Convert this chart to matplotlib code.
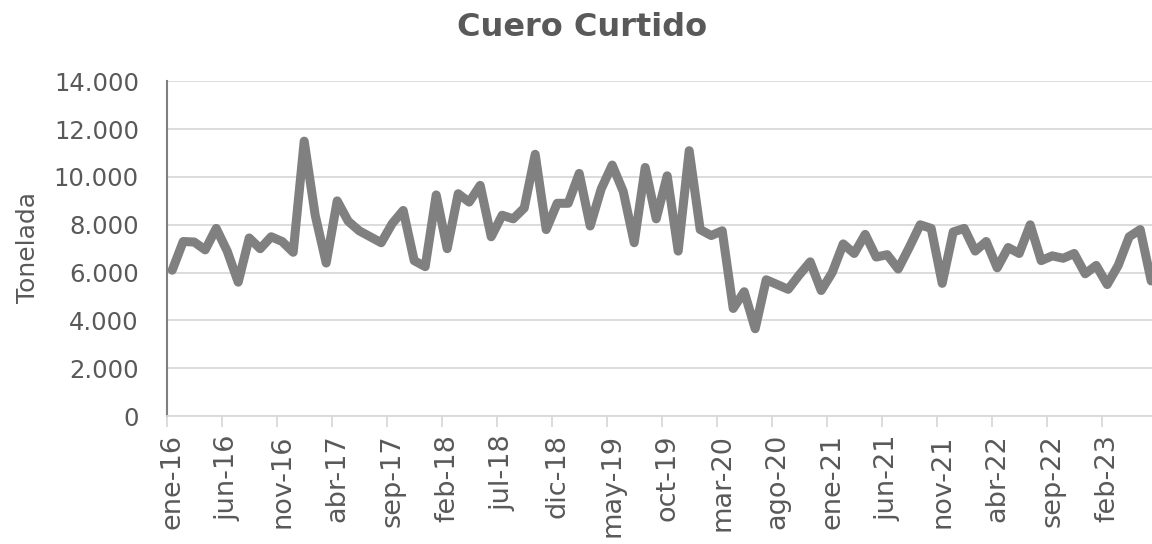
import matplotlib
matplotlib.use("Agg")
import matplotlib.pyplot as plt
from matplotlib.ticker import FuncFormatter, FixedLocator

# meses ene-16 .. jun-23
meses = ["ene", "feb", "mar", "abr", "may", "jun",
         "jul", "ago", "sep", "oct", "nov", "dic"]
etiquetas = [f"{meses[k % 12]}-{16 + k // 12}" for k in range(90)]

toneladas = [
    6100, 7300, 7280, 6950, 7850, 6900, 5600, 7450, 7000, 7500, 7300, 6850,
    11500, 8400, 6400, 9000, 8150, 7750, 7500, 7250, 8050, 8600, 6500, 6250,
    9250, 7000, 9300, 8950, 9650, 7500, 8400, 8250, 8700, 10950, 7800, 8900,
    8900, 10150, 7950, 9500, 10500, 9400, 7250, 10400, 8250, 10050, 6900, 11100,
    7800, 7550, 7750, 4500, 5200, 3650, 5700, 5500, 5300, 5900, 6450, 5250,
    6000, 7200, 6800, 7600, 6650, 6750, 6150, 7050, 8000, 7850, 5550, 7700,
    7850, 6900, 7300, 6200, 7050, 6800, 8000, 6500, 6700, 6600, 6800, 5950,
    6300, 5500, 6300, 7500, 7800, 5650,
]

gris_texto = "#595959"
gris_linea = "#808080"
gris_grid = "#d9d9d9"

fig = plt.figure(figsize=(11.52, 5.44), dpi=100)
ax = fig.add_axes([166.7 / 1152, 1 - 416 / 544, 990 / 1152, (416 - 81.4) / 544])

x = list(range(len(toneladas)))
ax.plot(x, toneladas, color=gris_linea, linewidth=6.5,
        solid_joinstyle="round", solid_capstyle="round", zorder=3)

ax.set_xlim(-0.5, len(toneladas) - 0.5)
ax.set_ylim(0, 14000)
ax.set_yticks(range(0, 14001, 2000))
ax.yaxis.set_major_formatter(FuncFormatter(lambda v, p: f"{int(v):,}".replace(",", ".")))
ax.grid(axis="y", color=gris_grid, linewidth=1.3, zorder=0)

pos = list(range(0, len(toneladas), 5))
ax.set_xticks(pos)
ax.set_xticklabels([etiquetas[k] for k in pos], rotation=90)
ax.xaxis.set_minor_locator(FixedLocator([k - 0.5 for k in pos]))
ax.tick_params(axis="x", which="major", length=0, pad=13, labelsize=19.5, colors=gris_texto)
ax.tick_params(axis="x", which="minor", length=8, width=1.3, color=gris_grid)
ax.tick_params(axis="y", length=0, pad=20, labelsize=17.5, colors=gris_texto)

for s in ["top", "right"]:
    ax.spines[s].set_visible(False)
ax.spines["left"].set_color(gris_linea)
ax.spines["left"].set_linewidth(1.5)
ax.spines["bottom"].set_color(gris_grid)
ax.spines["bottom"].set_linewidth(1.3)

fig.text(28 / 1152, 1 - 248 / 544, "Tonelada", rotation=90, ha="center", va="center",
         fontsize=18, color=gris_texto)
fig.text(0.505, 1 - 28 / 544, "Cuero Curtido", ha="center", va="center",
         fontsize=23, fontweight="bold", color=gris_texto)

fig.savefig("out.png", dpi=100)
